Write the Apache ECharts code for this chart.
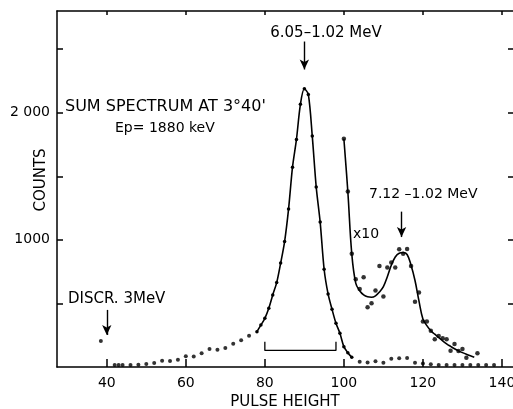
<!DOCTYPE html>
<html><head><meta charset="utf-8">
<script src="https://cdn.jsdelivr.net/npm/echarts@6/dist/echarts.min.js"></script>
<style>html,body{margin:0;padding:0;background:#fff;overflow:hidden}#c{width:513px;height:409px}</style>
</head><body><div id="c"></div>
<script>
// ---- data ----
const xTicks = [40, 60, 80, 100, 120, 140];
const yTicks = [500, 1000, 1500, 2000, 2500];
const yTickLabels = {1000: '1000', 2000: '2 000'};

// isolated measured points (no connecting line)
const dotX = [38.5, 42, 43, 44, 46, 48, 50, 52, 54, 56, 58, 60, 62, 64, 66, 68, 70, 72, 74, 76,
              104, 106, 108, 110, 112, 114, 116, 118, 120, 122, 124, 126, 128, 130, 132, 134, 136, 138];
const dotY = [205, 15, 15, 15, 16, 18, 24, 32, 50, 48, 58, 85, 82, 108, 142, 136, 150, 182, 210, 245,
              42, 36, 45, 34, 65, 68, 70, 34, 28, 22, 16, 16, 15, 15, 15, 15, 15, 16];

// main peak, points joined by the line
const peakX = [78, 79, 80, 81, 82, 83, 84, 85, 86, 87, 88, 89, 90, 91, 92, 93, 94, 95, 96, 97, 98, 99, 100, 101, 102];
const peakY = [278, 330, 383, 462, 567, 664, 817, 987, 1242, 1572, 1790, 2066, 2188, 2144, 1816, 1415, 1140, 769, 575, 454, 344, 265, 160, 112, 76];

// x10 points
const x10X = [100, 101, 102, 103, 104, 105, 106, 107, 108, 109, 110, 111, 112, 113, 114, 115, 116, 117, 118, 119, 120, 121, 122, 123, 124, 125, 126, 127, 128, 129, 130, 131, 133.8];
const x10Y = [1795, 1380, 890, 690, 614, 706, 470, 502, 601, 795, 554, 782, 821, 782, 927, 890, 929, 795, 514, 585, 357, 357, 286, 218, 244, 226, 218, 128, 181, 126, 142, 73, 108];

// x10 fitted curve
const fitX = [100, 101, 102, 103, 104, 105, 106, 107, 108, 109, 110, 111, 112, 113, 114, 115, 116, 117, 118, 119, 120, 121, 122, 123, 124, 125, 126, 127, 128, 129, 130, 131, 132, 133];
const fitY = [1795, 1380, 890, 660, 600, 567, 552, 549, 560, 590, 632, 710, 800, 865, 895, 900, 885, 800, 680, 520, 378, 325, 285, 258, 232, 205, 182, 162, 143, 127, 113, 100, 88, 76];

// bracket under the main peak
const bracketX = [80, 80, 98, 98];
const bracketY = [199, 130, 130, 199];

// arrows: [x, fromY, toY]
const arrows = [[90, 2560, 2340], [40, 449, 252], [114.6, 1222, 1022]];

// ---- chart ----
const zip = (a, b) => a.map((v, i) => [v, b[i]]);
const FONT = 'DejaVu Sans';
const INK = '#000';
const chart = echarts.init(document.getElementById('c'), null, {renderer: 'canvas'});

const axisLine = {show: true, onZero: false, lineStyle: {color: INK, width: 1.5}};

chart.setOption({
  animation: false,
  backgroundColor: '#fff',
  grid: {left: 57, right: 0, top: 11, bottom: 42, containLabel: false, outerBoundsMode: 'none'},
  xAxis: [{
    type: 'value', min: 27.4, max: 142.8, position: 'bottom',
    axisLine: axisLine,
    axisTick: {show: true, inside: true, length: 8, customValues: xTicks, lineStyle: {color: INK, width: 1.5}},
    axisLabel: {show: true, customValues: xTicks, margin: 9, fontSize: 14, color: INK, fontFamily: FONT},
    splitLine: {show: false},
    name: 'PULSE HEIGHT', nameLocation: 'middle', nameGap: 24,
    nameTextStyle: {fontSize: 15, color: INK, fontFamily: FONT}
  }, {
    type: 'value', min: 27.4, max: 142.8, position: 'top',
    axisLine: axisLine,
    axisTick: {show: true, inside: true, length: 4, customValues: xTicks, lineStyle: {color: INK, width: 1.5}},
    axisLabel: {show: false},
    splitLine: {show: false}
  }],
  yAxis: [{
    type: 'value', min: 0, max: 2800, interval: 500, position: 'left',
    axisLine: axisLine,
    axisTick: {show: true, inside: true, length: 6, customValues: yTicks, lineStyle: {color: INK, width: 1.5}},
    axisLabel: {show: true, margin: 7, fontSize: 14, color: INK, fontFamily: FONT,
      customValues: [1000, 2000], formatter: v => yTickLabels[v] || ''},
    splitLine: {show: false}
  }, {
    type: 'value', min: 0, max: 2800, interval: 500, position: 'right',
    axisLine: {show: false, onZero: false},
    axisTick: {show: true, inside: true, length: 5, customValues: yTicks, lineStyle: {color: INK, width: 1.5}},
    axisLabel: {show: false},
    splitLine: {show: false}
  }],
  series: [{
    type: 'scatter', data: zip(dotX, dotY), symbol: 'circle', symbolSize: 4,
    itemStyle: {color: INK}, silent: true
  }, {
    type: 'line', data: zip(peakX, peakY), smooth: 0.3, symbol: 'circle', symbolSize: 3.5,
    showSymbol: true, lineStyle: {color: INK, width: 1.6}, itemStyle: {color: INK}, silent: true
  }, {
    type: 'line', data: zip(fitX, fitY), smooth: 0.4, symbol: 'none',
    lineStyle: {color: INK, width: 1.6}, silent: true
  }, {
    type: 'scatter', data: zip(x10X, x10Y), symbol: 'circle', symbolSize: 4.5,
    itemStyle: {color: INK}, silent: true
  }, {
    type: 'line', data: zip(bracketX, bracketY), symbol: 'none',
    lineStyle: {color: INK, width: 1.3}, silent: true,
    markLine: {
      silent: true, symbol: ['none', 'arrow'], symbolSize: [7, 10],
      label: {show: false},
      lineStyle: {color: INK, width: 1.4, type: 'solid'},
      data: arrows.map(a => [{coord: [a[0], a[1]]}, {coord: [a[0], a[2]]}])
    }
  }],
  graphic: [
    {type: 'text', x: 65, y: 107, style: {text: "SUM SPECTRUM AT 3°40'", fontSize: 16, fontFamily: FONT, fill: INK, textAlign: 'left', textVerticalAlign: 'middle'}},
    {type: 'text', x: 115, y: 128, style: {text: 'Ep= 1880 keV', fontSize: 14, fontFamily: FONT, fill: INK, textAlign: 'left', textVerticalAlign: 'middle'}},
    {type: 'text', x: 326, y: 33, style: {text: '6.05–1.02 MeV', fontSize: 15, fontFamily: FONT, fill: INK, textAlign: 'center', textVerticalAlign: 'middle'}},
    {type: 'text', x: 369, y: 194, style: {text: '7.12 –1.02 MeV', fontSize: 14, fontFamily: FONT, fill: INK, textAlign: 'left', textVerticalAlign: 'middle'}},
    {type: 'text', x: 353, y: 234, style: {text: 'x10', fontSize: 14, fontFamily: FONT, fill: INK, textAlign: 'left', textVerticalAlign: 'middle'}},
    {type: 'text', x: 68, y: 299, style: {text: 'DISCR. 3MeV', fontSize: 15, fontFamily: FONT, fill: INK, textAlign: 'left', textVerticalAlign: 'middle'}},
    {type: 'text', x: 41, y: 180, rotation: Math.PI / 2, style: {text: 'COUNTS', fontSize: 15, fontFamily: FONT, fill: INK, textAlign: 'center', textVerticalAlign: 'middle'}}
  ]
});
</script>
</body></html>
